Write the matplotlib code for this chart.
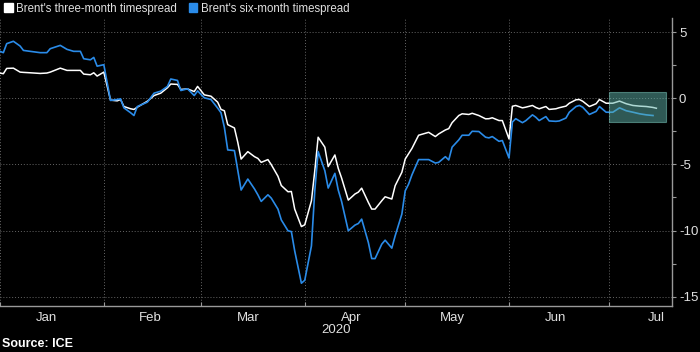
import matplotlib
matplotlib.use('Agg')
import matplotlib.pyplot as plt
import matplotlib.dates as mdates
from matplotlib.patches import Patch, Rectangle
import pandas as pd
import numpy as np

## data
dates = (
    ["2020-01-01", "2020-01-02", "2020-01-03", "2020-01-05", "2020-01-07", "2020-01-08", "2020-01-10",
     "2020-01-13", "2020-01-15", "2020-01-16", "2020-01-19", "2020-01-21", "2020-01-23", "2020-01-25",
     "2020-01-26", "2020-01-28", "2020-01-29", "2020-01-30", "2020-02-01"]
    + ["2020-02-03", "2020-02-05", "2020-02-06", "2020-02-07", "2020-02-09", "2020-02-10", "2020-02-11",
       "2020-02-14", "2020-02-16", "2020-02-18", "2020-02-20", "2020-02-21", "2020-02-23", "2020-02-24",
       "2020-02-26", "2020-02-28", "2020-02-29"]
    + ["2020-03-02", "2020-03-04", "2020-03-06", "2020-03-07", "2020-03-08", "2020-03-09", "2020-03-11",
       "2020-03-12", "2020-03-13", "2020-03-15", "2020-03-17", "2020-03-18", "2020-03-19", "2020-03-21",
       "2020-03-22", "2020-03-24", "2020-03-25", "2020-03-27", "2020-03-28", "2020-03-29", "2020-03-31"]
    + ["2020-04-01", "2020-04-03", "2020-04-04", "2020-04-05", "2020-04-07", "2020-04-08", "2020-04-10",
       "2020-04-11", "2020-04-12", "2020-04-14", "2020-04-16", "2020-04-17", "2020-04-18", "2020-04-20",
       "2020-04-21", "2020-04-22", "2020-04-24", "2020-04-25", "2020-04-27", "2020-04-28", "2020-04-30"]
    + ["2020-05-01", "2020-05-02", "2020-05-03", "2020-05-05", "2020-05-08", "2020-05-10", "2020-05-11",
       "2020-05-13", "2020-05-14", "2020-05-15", "2020-05-17", "2020-05-18", "2020-05-20", "2020-05-21",
       "2020-05-23", "2020-05-25", "2020-05-26", "2020-05-27", "2020-05-29", "2020-05-30"]
    + ["2020-06-01", "2020-06-02", "2020-06-03", "2020-06-05", "2020-06-06", "2020-06-08", "2020-06-09",
       "2020-06-10", "2020-06-12", "2020-06-13", "2020-06-15", "2020-06-16", "2020-06-18", "2020-06-19",
       "2020-06-21", "2020-06-22", "2020-06-23", "2020-06-25", "2020-06-27", "2020-06-28", "2020-06-30"]
    + ["2020-07-02", "2020-07-04", "2020-07-06", "2020-07-08", "2020-07-10", "2020-07-12", "2020-07-14",
       "2020-07-15"]
)

three_month = (
    [1.9, 1.85, 2.25, 2.27, 1.97, 1.95, 1.92, 1.87, 1.9, 1.97, 2.27, 2.1, 2.1, 2.1, 1.82, 1.77, 1.92, 1.67, 1.97]
    + [-0.15, -0.2, -0.1, -0.63, -0.8, -0.85, -0.68, -0.23, 0.2, 0.38, 0.79, 1.07, 1.04, 0.66, 0.7, 0.5, 0.89]
    + [0.25, 0.15, -0.3, -0.85, -0.95, -2.0, -2.25, -3.33, -4.6, -4.04, -4.42, -4.55, -4.85, -4.64, -5.02,
       -5.9, -6.6, -7.07, -7.05, -8.38, -9.7]
    + [-9.57, -7.75, -5.48, -2.95, -3.7, -5.17, -4.29, -5.3, -6.03, -7.7, -7.24, -7.1, -6.8, -7.88, -8.38,
       -8.38, -7.75, -7.45, -7.62, -6.61, -5.6]
    + [-4.6, -4.2, -3.8, -2.8, -2.58, -2.9, -2.7, -2.4, -2.3, -1.85, -1.31, -1.18, -1.23, -1.14, -1.31,
       -1.56, -1.55, -1.48, -1.69, -1.69]
    + [-3.08, -0.61, -0.55, -0.73, -0.68, -0.55, -0.7, -0.8, -0.63, -0.85, -0.8, -0.72, -0.6, -0.38, -0.12,
       -0.1, -0.23, -0.63, -0.42, -0.1, -0.38]
    + [-0.38, -0.22, -0.42, -0.55, -0.6, -0.63, -0.7, -0.76]
)

six_month = (
    [3.54, 3.44, 4.12, 4.3, 3.94, 3.61, 3.54, 3.44, 3.44, 3.74, 3.99, 3.69, 3.54, 3.54, 2.98, 2.9, 3.08, 2.42, 2.53]
    + [-0.17, -0.1, -0.05, -0.73, -1.1, -1.31, -0.63, -0.3, 0.38, 0.53, 0.89, 1.45, 1.34, 0.58, 0.71, 0.2, 0.55]
    + [0.03, -0.1, -0.75, -1.1, -2.2, -3.91, -3.96, -5.45, -6.94, -6.11, -6.86, -7.3, -7.8, -7.3, -7.55,
       -8.38, -9.2, -10.02, -10.08, -11.54, -13.98]
    + [-13.76, -11.16, -6.99, -4.04, -5.48, -6.79, -5.68, -6.94, -7.8, -10.02, -9.59, -9.47, -9.14, -10.91,
       -12.12, -12.12, -11.03, -10.73, -11.33, -10.4, -8.76]
    + [-7.0, -6.5, -5.8, -4.64, -4.64, -4.9, -4.85, -4.42, -4.67, -3.7, -3.15, -2.8, -2.8, -2.5, -2.52,
       -2.95, -3.0, -2.9, -3.26, -3.2]
    + [-4.52, -1.8, -1.55, -1.85, -1.7, -1.26, -1.44, -1.69, -1.39, -1.72, -1.75, -1.72, -1.5, -1.06, -0.63,
       -0.55, -0.68, -1.23, -1.0, -0.63, -1.06]
    + [-1.06, -0.73, -0.95, -1.06, -1.18, -1.26, -1.31, np.nan]
)

labels = ["Brent's three-month timespread", "Brent's six-month timespread"]
colors = ['#ffffff', '#2a8be8']

df = pd.DataFrame({'date': pd.to_datetime(dates), 'three': three_month, 'six': six_month})

plt.rcParams['font.family'] = ['Liberation Sans', 'DejaVu Sans']
plt.rcParams['axes.unicode_minus'] = False

fig = plt.figure(figsize=(7, 3.52), dpi=100, facecolor='black')
ax = fig.add_axes([0, 0.1293, 0.96, 0.8196])
ax.set_facecolor('black')

ax.plot(df['date'], df['three'], color=colors[0], linewidth=1.1, zorder=3)
ax.plot(df['date'], df['six'], color=colors[1], linewidth=1.2, zorder=3)

# highlight box for July
box_x0 = mdates.date2num(pd.Timestamp('2020-07-01'))
box_x1 = mdates.date2num(pd.Timestamp('2020-07-18'))
ax.add_patch(Rectangle((box_x0, -1.77), box_x1 - box_x0, 2.2, facecolor='#5fb3aa', alpha=0.5,
                       edgecolor='#7fd0c5', linewidth=0.8, zorder=4))

ax.set_xlim(pd.Timestamp('2020-01-01'), pd.Timestamp('2020-07-19 16:00'))
ax.set_ylim(-15.74, 6.06)

# y axis on the right
ax.yaxis.tick_right()
ax.set_yticks([5, 0, -5, -10, -15])
ax.set_yticks([2.5, -2.5, -7.5, -12.5], minor=True)
ax.tick_params(axis='y', which='both', direction='out', length=3, width=0.8, color='#999999',
               labelcolor='#e0e0e0', labelsize=9.5, pad=2)

# x axis: month ticks at starts, labels mid-month
ax.xaxis.set_major_locator(mdates.MonthLocator())
ax.xaxis.set_major_formatter(plt.NullFormatter())
ax.xaxis.set_minor_locator(mdates.MonthLocator(bymonthday=15))
ax.xaxis.set_minor_formatter(mdates.DateFormatter('%b'))
ax.tick_params(axis='x', which='major', direction='in', length=3, width=0.8, color='#999999')
ax.tick_params(axis='x', which='minor', length=0, labelcolor='#e0e0e0', labelsize=9.5, pad=4)

for s in ['top', 'left']:
    ax.spines[s].set_visible(False)
for s in ['bottom', 'right']:
    ax.spines[s].set_color('#999999')
    ax.spines[s].set_linewidth(1.0)

ax.grid(True, which='major', color='#666666', linestyle=(0, (1, 2)), linewidth=0.7)

fig.text(336 / 700, 1 - 330 / 352, '2020', color='#e0e0e0', fontsize=9.5, ha='center', va='center')
fig.text(2 / 700, 1 - 344 / 352, 'Source: ICE', color='#ffffff', fontsize=9, fontweight='bold',
         ha='left', va='center')

handles = [Patch(facecolor=c, edgecolor=c) for c in colors]
fig.legend(handles, labels, loc='upper left', bbox_to_anchor=(-0.004, 1.012), ncol=2, frameon=False,
           fontsize=8.3, labelcolor='#e0e0e0', handlelength=0.75, handleheight=0.75, handletextpad=0.3,
           columnspacing=1.0, borderaxespad=0.2)

fig.savefig('out.png', dpi=100, facecolor='black')
